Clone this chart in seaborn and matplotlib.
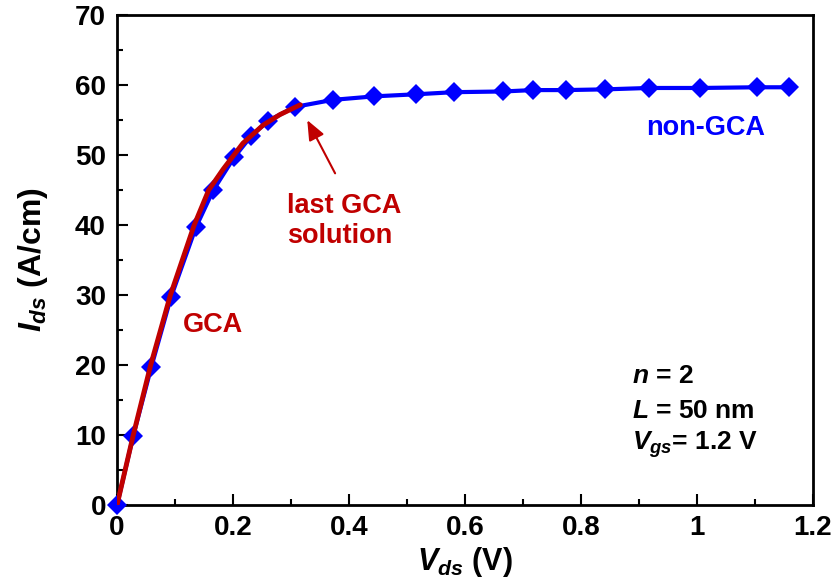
import matplotlib
matplotlib.use("Agg")
import matplotlib.pyplot as plt
import seaborn as sns
import pandas as pd
from matplotlib.ticker import MultipleLocator, FixedLocator, FixedFormatter

# ---- data ----
vds_noncga = [0.0, 0.028, 0.059, 0.093, 0.136, 0.166, 0.202, 0.231, 0.260, 0.307,
              0.372, 0.443, 0.516, 0.581, 0.666, 0.717, 0.774, 0.841, 0.917, 1.005,
              1.103, 1.159]
ids_noncga = [0.0, 9.9, 19.7, 29.7, 39.7, 45.0, 49.7, 52.7, 54.9, 56.9,
              57.9, 58.4, 58.7, 59.0, 59.1, 59.3, 59.3, 59.4, 59.6, 59.6,
              59.7, 59.7]

vds_gca = [0.0, 0.028, 0.058, 0.092, 0.133, 0.158, 0.183, 0.217, 0.252, 0.281, 0.316]
ids_gca = [0.0, 10.0, 20.0, 30.0, 40.0, 45.0, 48.0, 51.7, 54.3, 55.8, 57.2]

xtick_vals = [0, 0.2, 0.4, 0.6, 0.8, 1.0, 1.2]
xtick_labels = ["0", "0.2", "0.4", "0.6", "0.8", "1", "1.2"]
ytick_vals = [0, 10, 20, 30, 40, 50, 60, 70]
ytick_labels = ["0", "10", "20", "30", "40", "50", "60", "70"]

df_non = pd.DataFrame({"Vds": vds_noncga, "Ids": ids_noncga})
df_gca = pd.DataFrame({"Vds": vds_gca, "Ids": ids_gca})

BLUE = "#0000FF"
RED = "#C00000"

sns.set_theme(style="white")
plt.rcParams["font.family"] = ["Liberation Sans", "DejaVu Sans"]
plt.rcParams["font.weight"] = "bold"
plt.rcParams["text.color"] = "black"
plt.rcParams["axes.labelcolor"] = "black"
plt.rcParams["xtick.color"] = "black"
plt.rcParams["ytick.color"] = "black"
plt.rcParams["mathtext.fontset"] = "custom"
plt.rcParams["mathtext.it"] = "Liberation Sans:italic:bold"
plt.rcParams["mathtext.rm"] = "Liberation Sans:bold"
plt.rcParams["mathtext.bf"] = "Liberation Sans:bold"

fig = plt.figure(figsize=(8.33, 5.85), dpi=100)
ax = fig.add_axes([0.1405, 0.1368, 0.976 - 0.1405, 0.974 - 0.1368])

sns.lineplot(data=df_non, x="Vds", y="Ids", ax=ax, color=BLUE, lw=3.0,
             marker="D", markersize=10, markeredgewidth=0, markerfacecolor=BLUE,
             sort=False, estimator=None, zorder=3, clip_on=False)
sns.lineplot(data=df_gca, x="Vds", y="Ids", ax=ax, color=RED, lw=3.5,
             sort=False, estimator=None, zorder=4)

ax.set_xlim(0, 1.2)
ax.set_ylim(0, 70)

ax.xaxis.set_major_locator(FixedLocator(xtick_vals))
ax.xaxis.set_major_formatter(FixedFormatter(xtick_labels))
ax.yaxis.set_major_locator(FixedLocator(ytick_vals))
ax.yaxis.set_major_formatter(FixedFormatter(ytick_labels))
ax.xaxis.set_minor_locator(MultipleLocator(0.1))
ax.yaxis.set_minor_locator(MultipleLocator(5))

ax.tick_params(which="both", direction="in", color="black", labelcolor="black",
               width=1.5, bottom=True, left=True, top=False, right=False)
ax.tick_params(which="major", length=8, labelsize=20)
ax.tick_params(which="minor", length=4.5)
ax.tick_params(axis="x", which="major", pad=7)
ax.tick_params(axis="y", which="major", pad=8)
for lab in ax.get_xticklabels() + ax.get_yticklabels():
    lab.set_fontweight("bold")

for sp in ax.spines.values():
    sp.set_visible(True)
    sp.set_color("black")
    sp.set_linewidth(2.0)

ax.set_xlabel(r"$V_{ds}$ (V)", fontsize=22, fontweight="bold", labelpad=3)
ax.set_ylabel(r"$I_{ds}$ (A/cm)", fontsize=23, fontweight="bold", labelpad=18)

# annotations
ax.text(0.114, 25.7, "GCA", color=RED, fontsize=19.5, fontweight="bold",
        ha="left", va="center")
ax.text(0.912, 53.9, "non-GCA", color=BLUE, fontsize=19.5, fontweight="bold",
        ha="left", va="center")
ax.text(0.293, 40.6, "last GCA\nsolution", color=RED, fontsize=19.5,
        fontweight="bold", ha="left", va="center", linespacing=1.2)
ax.annotate("", xy=(0.328, 55.0), xytext=(0.376, 47.4),
            arrowprops=dict(arrowstyle="-|>,head_length=0.6,head_width=0.25",
                            color=RED, lw=1.5, mutation_scale=20,
                            shrinkA=0, shrinkB=0))

ax.text(0.888, 18.4, r"$n$ = 2", color="black", fontsize=19,
        fontweight="bold", ha="left", va="center")
ax.text(0.888, 13.5, r"$L$ = 50 nm", color="black", fontsize=19,
        fontweight="bold", ha="left", va="center")
ax.text(0.888, 8.6, r"$V_{gs}$= 1.2 V", color="black", fontsize=19,
        fontweight="bold", ha="left", va="center")

fig.savefig("out.png", dpi=100)
